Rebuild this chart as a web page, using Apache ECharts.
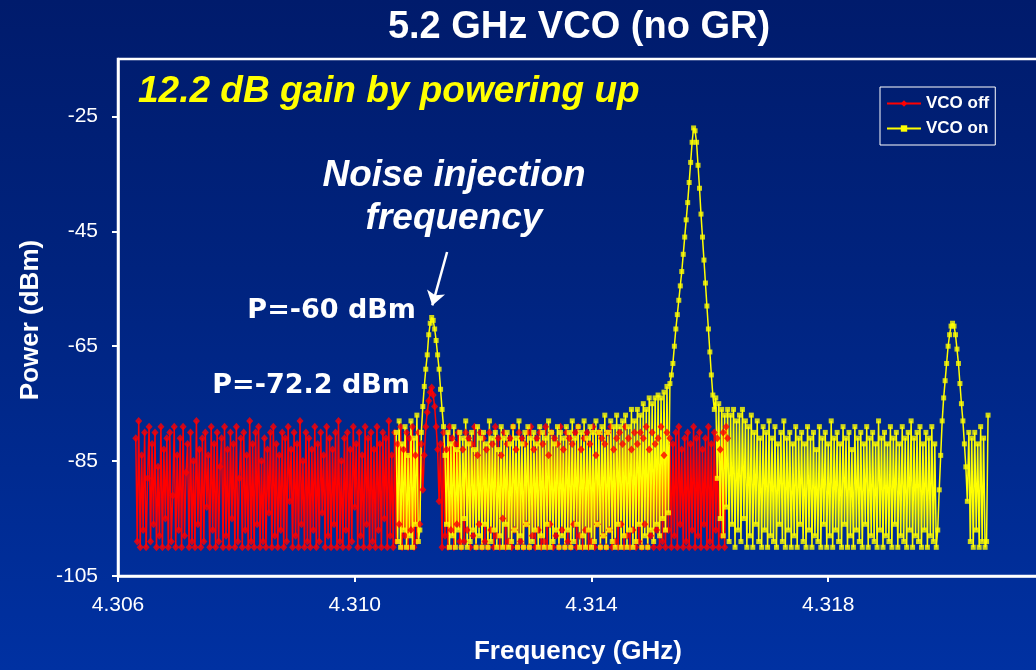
<!DOCTYPE html>
<html>
<head>
<meta charset="utf-8">
<script src="https://cdn.jsdelivr.net/npm/echarts@6/dist/echarts.min.js"></script>
<style>
  html, body { margin: 0; padding: 0; }
  body { background: linear-gradient(to bottom, #001b6c 0%, #00237e 40%, #0031a2 100%); }
  #chart { width: 1036px; height: 670px; }
</style>
</head>
<body>
<div id="chart"></div>
<script>
// Spectrum analyzer sweeps: 401 points, 25 kHz apart (10 MHz span)
const sweepStepGHz = 0.000025;
const offStartGHz = 4.3063;   // VCO off sweep, centred on the injected tone
const onStartGHz = 4.3107;    // VCO on sweep, centred on the oscillation

// Measured power, dBm, VCO off
const vcoOffDbm = [
  -81,-99,-78,-100,-84,-97,-80,-100,-88,-79,-99,-82,-96,-80,-100,-86,-98,-79,-100,-83,
  -95,-81,-100,-80,-99,-91,-79,-100,-84,-97,-81,-100,-79,-98,-87,-82,-100,-80,-99,-85,
  -100,-78,-96,-83,-100,-81,-99,-80,-93,-84,-100,-79,-97,-82,-100,-80,-99,-86,-81,-100,
  -79,-98,-83,-100,-80,-95,-82,-100,-79,-99,-88,-81,-100,-80,-97,-84,-100,-78,-99,-82,
  -100,-80,-96,-79,-100,-85,-99,-81,-100,-83,-94,-80,-100,-79,-98,-82,-100,-84,-97,-80,
  -100,-81,-99,-79,-92,-83,-100,-80,-98,-82,-100,-78,-96,-85,-100,-80,-99,-81,-100,-83,
  -97,-79,-100,-82,-99,-80,-94,-84,-100,-79,-98,-81,-100,-83,-96,-80,-100,-78,-99,-85,
  -100,-81,-97,-80,-100,-83,-99,-79,-93,-82,-100,-80,-98,-84,-100,-79,-96,-81,-100,-80,
  -99,-83,-100,-79,-97,-82,-100,-80,-95,-81,-100,-78,-98,-84,-100,-80,-99,-82,-96,-79,
  -100,-83,-98,-80,-100,-81,-97,-79,-100,-84,-99,-80,-96,-82,-90,-84,-79,-76.5,-74.5,-73,
  -72.2,-73.5,-75.5,-79,-83,-92,-82,-100,-80,-98,-83,-100,-79,-97,-81,-100,-82,-96,-80,-99,
  -100,-83,-99,-80,-97,-81,-100,-82,-98,-79,-100,-84,-96,-80,-100,-81,-99,-83,-100,-80,
  -97,-82,-100,-79,-98,-81,-100,-84,-95,-80,-100,-82,-99,-81,-100,-79,-97,-83,-100,-80,
  -99,-81,-100,-82,-96,-80,-100,-79,-98,-83,-100,-81,-97,-80,-100,-82,-99,-79,-100,-84,
  -96,-80,-100,-81,-98,-82,-100,-79,-97,-83,-100,-80,-99,-81,-100,-82,-96,-80,-100,-79,
  -98,-83,-100,-81,-97,-80,-100,-82,-99,-79,-100,-84,-96,-80,-100,-81,-98,-82,-100,-80,
  -97,-79,-100,-83,-99,-81,-100,-80,-96,-82,-100,-79,-98,-81,-100,-83,-97,-80,-100,-82,
  -99,-80,-100,-81,-96,-79,-100,-83,-98,-80,-100,-82,-97,-81,-100,-79,-99,-84,-100,-80,
  -97,-81,-100,-82,-98,-80,-100,-79,-96,-83,-100,-81,-99,-80,-100,-82,-97,-79,-100,-81,
  -98,-80,-100,-83,-96,-81,-100,-79,-99,-82,-100,-80,-97,-81,-100,-83,-98,-80,-100,-79,-81
];

// Measured power, dBm, VCO on
const vcoOnDbm = [
  -80,-99,-78,-100,-82,-97,-79,-100,-84,-98,-78,-100,-81,-96,-77,-99,
  -97,-80,-75.5,-72,-69,-66.5,-63,-61,-60,-60.5,-62,-64,-66.5,-69,-72.5,-76,-79,-84,
  -96,-80,-100,-82,-98,-79,-100,-83,-97,-80,-100,-81,-95,-78,-100,-82,-99,-80,-97,-83,
  -100,-79,-98,-81,-100,-80,-96,-82,-100,-78,-99,-81,-97,-80,-100,-83,-98,-79,-100,-81,
  -96,-80,-100,-82,-99,-79,-97,-81,-100,-78,-98,-82,-100,-80,-96,-79,-100,-81,-99,-80,
  -97,-82,-100,-79,-98,-80,-100,-81,-96,-78,-100,-80,-99,-82,-97,-79,-100,-80,-98,-81,
  -100,-79,-97,-80,-100,-78,-99,-81,-96,-79,-100,-80,-98,-78,-100,-81,-97,-79,-100,-80,
  -99,-78,-96,-80,-100,-79,-98,-77,-100,-80,-97,-78,-99,-79,-100,-77,-96,-79,-100,-78,
  -98,-77,-100,-79,-97,-76,-100,-78,-99,-76,-96,-77,-100,-75,-98,-76,-100,-74,-97,-75,
  -99,-74,-96,-73.5,-98,-74,-95,-73,-97,-72,-94,-71.5,
  -70,-68,-65,-62,-59.5,-57,-54.5,-52,-49,-46,-43,-40,-36.5,-33,-29.5,-27,
  -27.5,-29.5,-33.5,-37.5,-42,-46,-50,-54,-58,-62,-66,-70,-73.5,
  -76,-74,-88,-75,-95,-76,-98,-77,-93,-76,-99,-77,-96,-76,-100,-78,-97,-77,-99,-76,-95,
  -78,-100,-79,-98,-77,-100,-80,-96,-78,-99,-81,-100,-79,-97,-80,-100,-78,-98,-81,-99,
  -79,-100,-82,-96,-80,-99,-78,-100,-81,-97,-80,-100,-82,-98,-79,-100,-81,-96,-80,-99,
  -82,-100,-79,-97,-81,-100,-80,-98,-83,-99,-79,-100,-81,-96,-80,-100,-82,-98,-78,-100,
  -81,-97,-80,-99,-82,-100,-79,-96,-81,-100,-80,-98,-83,-100,-79,-97,-81,-99,-80,-100,
  -82,-96,-79,-100,-81,-98,-80,-99,-82,-100,-78,-97,-81,-100,-80,-98,-82,-99,-79,-100,
  -81,-96,-80,-100,-82,-98,-79,-99,-81,-100,-80,-97,-78,-100,-81,-98,-80,-99,-79,-100,
  -82,-97,-80,-100,-81,-98,-79,-99,-82,-100,-97,-90,
  -84,-78,-74,-71,-68,-65,-63,-61.5,-61,-61.5,-63,-65.5,-68,-71.5,-75,-78,-82,-86,-92,
  -80,-99,-81,-100,-80,-97,-82,-100,-79,-99,-81,-100,-99,-77
];

// Axis ticks
const freqTicks = [4.306, 4.310, 4.314, 4.318, 4.322];
const powerTicks = [-105, -85, -65, -45, -25];

const sans = '"Liberation Sans", Arial, sans-serif';
const toPairs = (start, values) =>
  values.map((v, i) => [+(start + i * sweepStepGHz).toFixed(6), v]);
const offPts = toPairs(offStartGHz, vcoOffDbm);
const onPts = toPairs(onStartGHz, vcoOnDbm);

const chart = echarts.init(document.getElementById('chart'), null, { renderer: 'canvas' });

const option = {
  backgroundColor: 'transparent',
  animation: false,
  grid: {
    left: 118, right: -29, top: 59, bottom: 94,
    outerBoundsMode: 'none',
    containLabel: false,
    show: true, borderColor: '#ffffff', borderWidth: 2.5, backgroundColor: 'transparent'
  },
  xAxis: {
    type: 'value',
    min: freqTicks[0], max: freqTicks[freqTicks.length - 1],
    interval: freqTicks[1] - freqTicks[0],
    axisLine: { show: true, lineStyle: { color: '#ffffff', width: 2.5 } },
    axisTick: { show: true, length: 6, lineStyle: { color: '#ffffff', width: 2 } },
    axisLabel: { color: '#ffffff', fontSize: 21, fontFamily: sans, margin: 19,
      formatter: v => v.toFixed(3) },
    splitLine: { show: false }
  },
  yAxis: {
    type: 'value',
    min: powerTicks[0], max: -15,
    interval: powerTicks[1] - powerTicks[0],
    axisLine: { show: true, lineStyle: { color: '#ffffff', width: 2.5 } },
    axisTick: { show: true, length: 6, lineStyle: { color: '#ffffff', width: 2 } },
    axisLabel: { color: '#ffffff', fontSize: 21, fontFamily: sans, margin: 20,
      showMaxLabel: false,
      formatter: v => (powerTicks.indexOf(Math.round(v)) >= 0 ? String(Math.round(v)) : '') },
    splitLine: { show: false }
  },
  legend: {
    data: ['VCO off', 'VCO on'],
    orient: 'vertical',
    left: 880, top: 87,
    padding: [8, 6, 8, 6],
    itemGap: 8,
    itemWidth: 34, itemHeight: 8,
    borderColor: '#ffffff', borderWidth: 1, borderRadius: 0,
    selectedMode: false,
    textStyle: { color: '#ffffff', fontSize: 17, fontWeight: 'bold', fontFamily: sans }
  },
  series: [
    {
      name: 'VCO off', type: 'line', data: offPts,
      symbol: 'diamond', showSymbol: false,
      lineStyle: { color: '#ff0000', width: 1.5 },
      itemStyle: { color: '#ff0000' },
      z: 2, silent: true
    },
    {
      name: 'VCO on', type: 'line', data: onPts,
      symbol: 'rect', showSymbol: false,
      lineStyle: { color: '#ffff00', width: 1.5 },
      itemStyle: { color: '#ffff00' },
      z: 3, silent: true,
      markLine: {
        silent: true,
        symbol: ['none', 'arrow'],
        symbolSize: 14,
        label: { show: false },
        lineStyle: { color: '#ffffff', width: 2.5, type: 'solid' },
        data: [[{ coord: [4.31156, -48.6] }, { coord: [4.31131, -57.9] }]]
      }
    },
    {
      name: 'VCO off samples', type: 'scatter', data: offPts,
      symbol: 'diamond', symbolSize: [7, 8],
      itemStyle: { color: '#ff0000' },
      z: 4, silent: true
    },
    {
      name: 'VCO on samples', type: 'scatter', data: onPts,
      symbol: 'rect', symbolSize: 5,
      itemStyle: { color: '#ffff00' },
      z: 5, silent: true
    }
  ],
  graphic: [
    { type: 'text', x: 579, y: 28, z: 10, silent: true,
      style: { text: '5.2 GHz VCO (no GR)', fill: '#ffffff', font: 'bold 38px ' + sans,
        textAlign: 'center', textVerticalAlign: 'middle' } },
    { type: 'text', x: 138, y: 92, z: 10, silent: true,
      style: { text: '12.2 dB gain by powering up', fill: '#ffff00', font: 'italic bold 37px ' + sans,
        textAlign: 'left', textVerticalAlign: 'middle' } },
    { type: 'text', x: 454, y: 176, z: 10, silent: true,
      style: { text: 'Noise injection', fill: '#ffffff', font: 'italic bold 37px ' + sans,
        textAlign: 'center', textVerticalAlign: 'middle' } },
    { type: 'text', x: 454, y: 219, z: 10, silent: true,
      style: { text: 'frequency', fill: '#ffffff', font: 'italic bold 37px ' + sans,
        textAlign: 'center', textVerticalAlign: 'middle' } },
    { type: 'text', x: 416, y: 311, z: 10, silent: true,
      style: { text: 'P=-60 dBm', fill: '#ffffff', font: 'bold 27px "DejaVu Sans", Verdana, sans-serif',
        textAlign: 'right', textVerticalAlign: 'middle' } },
    { type: 'text', x: 410, y: 386, z: 10, silent: true,
      style: { text: 'P=-72.2 dBm', fill: '#ffffff', font: 'bold 27px "DejaVu Sans", Verdana, sans-serif',
        textAlign: 'right', textVerticalAlign: 'middle' } },
    { type: 'text', x: 578, y: 652, z: 10, silent: true,
      style: { text: 'Frequency (GHz)', fill: '#ffffff', font: 'bold 26px ' + sans,
        textAlign: 'center', textVerticalAlign: 'middle' } },
    { type: 'text', x: 31, y: 320, rotation: Math.PI / 2, z: 10, silent: true,
      style: { text: 'Power (dBm)', fill: '#ffffff', font: 'bold 26px ' + sans,
        textAlign: 'center', textVerticalAlign: 'middle' } }
  ]
};

chart.setOption(option);
</script>
</body>
</html>
